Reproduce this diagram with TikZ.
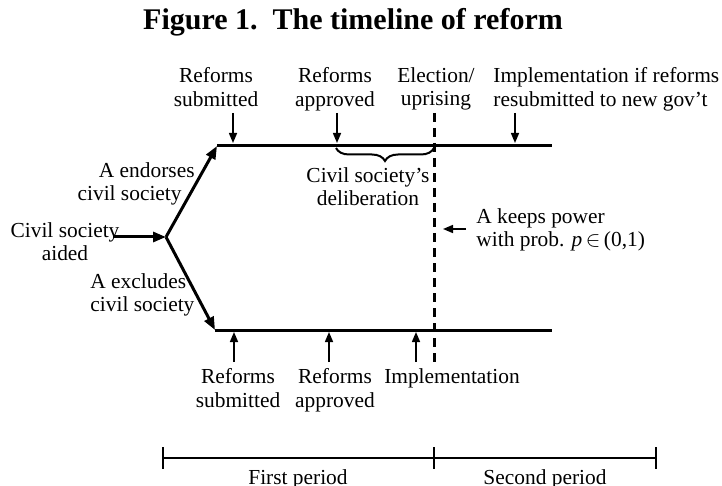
\documentclass[tikz,border=0pt]{standalone}
\usepackage{fontspec}
\setmainfont{Liberation Serif}
\usetikzlibrary{arrows.meta,decorations.pathreplacing}

\begin{document}
\begin{tikzpicture}[x=0.5pt,y=0.5pt,yscale=-1,xscale=1,
  every node/.style={inner sep=0pt,font=\fontsize{10.7}{11.8}\selectfont},
  lbl/.style={align=center},
  track/.style={line width=1.5pt},
  branch/.style={line width=1.5pt,-{Triangle[length=6.5pt,width=5pt]}},
  pointer/.style={line width=0.75pt,-{Triangle[length=5pt,width=4pt]}},
  scalebar/.style={line width=0.6pt}]
\useasboundingbox (0,0) rectangle (722,486);

% Title
\node (title) [anchor=base,font=\fontsize{15}{17}\selectfont\bfseries] at (353,30) {Figure 1.\ \ The timeline of reform};

%Points of the tree
\coordinate (start) at (113,237);
\coordinate (fork) at (166,237);
\coordinate (up0) at (217,146);
\coordinate (up1) at (552,146);
\coordinate (lo0) at (215,330);
\coordinate (lo1) at (552,330);

%Straight Lines
\draw [branch] (start) -- (fork);
\draw [branch] (fork) -- (up0);
\draw [branch] (fork) -- (lo0);
\draw [track] (up0) -- (up1);
\draw [track] (lo0) -- (lo1);

%Election line
\coordinate (el0) at (434,113);
\coordinate (el1) at (434,366);
\draw [line width=1.5pt,dash pattern=on 4.5pt off 3pt] (el0) -- (el1);

%Brace
\coordinate (br0) at (336,148);
\coordinate (br1) at (434,148);
\draw [line width=1pt,decorate,decoration={brace,mirror,amplitude=6.5pt}] (br0) -- (br1);

%Pointers, upper track
\coordinate (pu1) at (233,113);
\coordinate (qu1) at (233,143);
\coordinate (pu2) at (337,113);
\coordinate (qu2) at (337,143);
\coordinate (pu3) at (515,113);
\coordinate (qu3) at (515,143);
\draw [pointer] (pu1) -- (qu1);
\draw [pointer] (pu2) -- (qu2);
\draw [pointer] (pu3) -- (qu3);

%Pointers, lower track
\coordinate (pl1) at (234,362);
\coordinate (ql1) at (234,332);
\coordinate (pl2) at (329,362);
\coordinate (ql2) at (329,332);
\coordinate (pl3) at (416,362);
\coordinate (ql3) at (416,332);
\draw [pointer] (pl1) -- (ql1);
\draw [pointer] (pl2) -- (ql2);
\draw [pointer] (pl3) -- (ql3);

%Pointer to election line
\coordinate (pk) at (466,229);
\coordinate (qk) at (443,229);
\draw [pointer] (pk) -- (qk);

%Time scale
\coordinate (t0) at (163,458);
\coordinate (t1) at (434,458);
\coordinate (t2) at (656,458);
\draw [scalebar] (t0) -- (t2);
\draw [scalebar] (t0) ++(0,-11) -- ++(0,22);
\draw [scalebar] (t1) ++(0,-11) -- ++(0,22);
\draw [scalebar] (t2) ++(0,-11) -- ++(0,22);

% Text Node
\node (subTop) [lbl,anchor=north] at (216,67) {Reforms\\submitted};
% Text Node
\node (appTop) [lbl,anchor=north] at (335,67) {Reforms\\approved};
% Text Node
\node (elect) [lbl,anchor=north] at (436,67) {Election/\\uprising};
% Text Node
\node (impTop) [align=left,anchor=north west] at (493,67) {Implementation if reforms\\resubmitted to new gov't};
% Text Node
\node (aided) [lbl,anchor=north] at (65,222) {Civil society\\aided};
% Text Node
\node (endorse) [align=right,anchor=north east] at (195,162) {A endorses\\civil society\hspace*{6.5pt}};
% Text Node
\node (exclude) [align=left,anchor=north west] at (90,273) {A excludes\\civil society};
% Text Node
\node (delib) [lbl,anchor=north] at (368,167) {Civil society's\\deliberation};
% Text Node
\node (keeps) [align=left,anchor=north west] at (476,208) {A keeps power\\with prob. \textit{p}\,$\in$\,(0,1)};
% Text Node
\node (subBot) [lbl,anchor=north] at (238,368) {Reforms\\submitted};
% Text Node
\node (appBot) [lbl,anchor=north] at (335,368) {Reforms\\approved};
% Text Node
\node (impBot) [anchor=north] at (452,368) {Implementation};
% Text Node
\node (first) [anchor=north] at (298,469) {First period};
% Text Node
\node (second) [anchor=north] at (545,469) {Second period};
\end{tikzpicture}
\end{document}
